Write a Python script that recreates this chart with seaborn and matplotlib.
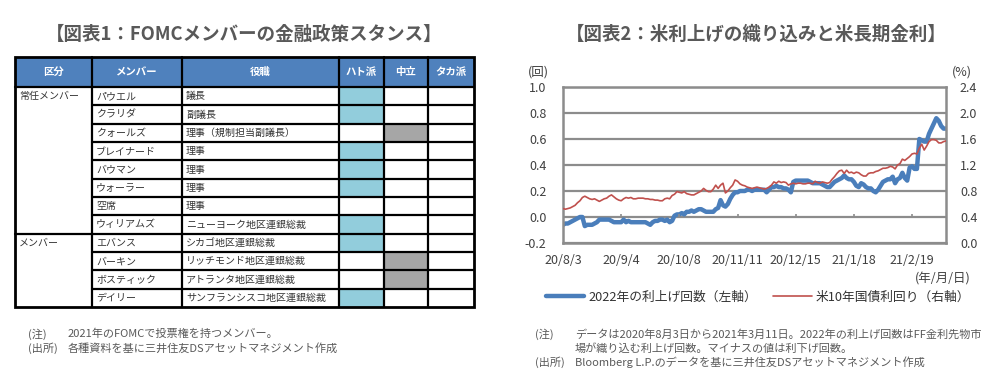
import matplotlib
matplotlib.use("Agg")
import matplotlib.pyplot as plt
from matplotlib.colors import ListedColormap
from matplotlib.lines import Line2D
import numpy as np
import pandas as pd
import seaborn as sns

# ---- 図表1 : FOMCメンバー ----
header = ["区分", "メンバー", "役職", "ハト派", "中立", "タカ派"]
groups = ["常任メンバー", "メンバー"]
group_sizes = [8, 4]
members = ["パウエル", "クラリダ", "クォールズ", "ブレイナード", "バウマン", "ウォーラー",
           "空席", "ウィリアムズ", "エバンス", "バーキン", "ボスティック", "デイリー"]
posts = ["議長", "副議長", "理事（規制担当副議長）", "理事", "理事", "理事", "理事",
         "ニューヨーク地区連銀総裁", "シカゴ地区連銀総裁", "リッチモンド地区連銀総裁",
         "アトランタ地区連銀総裁", "サンフランシスコ地区連銀総裁"]
stance_cols = ["ハト派", "中立", "タカ派"]
stances = ["ハト派", "ハト派", "中立", "ハト派", "ハト派", "ハト派", "",
           "ハト派", "ハト派", "中立", "中立", "ハト派"]

# ---- 図表2 : 利上げ織り込みと米10年債 ----
dates = pd.bdate_range("2020-08-03", "2021-03-11")
xtick_labels = ["20/8/3", "20/9/4", "20/10/8", "20/11/11", "20/12/15", "21/1/18", "21/2/19"]
hikes_2022 = [
    -0.06, -0.05, -0.05, -0.04, -0.03, -0.02, -0.01, 0.00, 0.00, -0.07,
    -0.06, -0.06, -0.06, -0.05, -0.04, -0.02, -0.02, -0.02, -0.02, -0.02,
    -0.03, -0.04, -0.04, -0.04, -0.04, -0.02, -0.04, -0.03, -0.04, -0.04,
    -0.04, -0.04, -0.04, -0.04, -0.04, -0.05, -0.06, -0.04, -0.03, -0.03,
    -0.02, -0.02, -0.03, -0.02, -0.04, -0.03, 0.01, 0.02, 0.02, 0.03,
    0.02, 0.04, 0.04, 0.05, 0.04, 0.05, 0.06, 0.06, 0.05, 0.04,
    0.04, 0.04, 0.04, 0.06, 0.07, 0.13, 0.09, 0.08, 0.10, 0.14,
    0.17, 0.19, 0.19, 0.20, 0.20, 0.20, 0.21, 0.21, 0.20, 0.21,
    0.21, 0.21, 0.21, 0.21, 0.19, 0.21, 0.23, 0.23, 0.24, 0.23,
    0.23, 0.22, 0.22, 0.21, 0.19, 0.27, 0.28, 0.28, 0.28, 0.28,
    0.28, 0.28, 0.27, 0.26, 0.26, 0.26, 0.26, 0.25, 0.24, 0.23,
    0.23, 0.25, 0.27, 0.28, 0.29, 0.30, 0.32, 0.30, 0.29, 0.29,
    0.27, 0.24, 0.23, 0.26, 0.25, 0.23, 0.22, 0.22, 0.20, 0.19,
    0.21, 0.24, 0.27, 0.28, 0.29, 0.29, 0.31, 0.26, 0.29, 0.30,
    0.34, 0.30, 0.28, 0.38, 0.39, 0.37, 0.37, 0.60, 0.59, 0.58,
    0.58, 0.64, 0.68, 0.72, 0.76, 0.74, 0.70, 0.68, 0.68,
]
ust10y = [
    0.53, 0.52, 0.53, 0.54, 0.56, 0.58, 0.62, 0.65, 0.70, 0.72,
    0.70, 0.68, 0.67, 0.68, 0.66, 0.64, 0.66, 0.68, 0.69, 0.72,
    0.74, 0.71, 0.68, 0.66, 0.65, 0.68, 0.70, 0.69, 0.70, 0.68,
    0.68, 0.69, 0.69, 0.69, 0.68, 0.68, 0.67, 0.67, 0.66, 0.66,
    0.65, 0.65, 0.68, 0.69, 0.68, 0.73, 0.75, 0.79, 0.78, 0.77,
    0.79, 0.76, 0.75, 0.74, 0.74, 0.76, 0.78, 0.80, 0.84, 0.81,
    0.79, 0.79, 0.83, 0.89, 0.84, 0.89, 0.92, 0.77, 0.80, 0.85,
    0.89, 0.97, 0.95, 0.91, 0.89, 0.88, 0.86, 0.85, 0.84, 0.85,
    0.86, 0.85, 0.84, 0.83, 0.84, 0.86, 0.89, 0.94, 0.92, 0.95,
    0.93, 0.94, 0.93, 0.89, 0.91, 0.92, 0.91, 0.92, 0.92, 0.91,
    0.91, 0.92, 0.92, 0.91, 0.95, 0.93, 0.92, 0.94, 0.93, 0.92,
    0.93, 0.98, 1.02, 1.07, 1.11, 1.12, 1.07, 1.12, 1.08, 1.09,
    1.07, 1.09, 1.08, 1.05, 1.03, 1.03, 1.07, 1.08, 1.08, 1.10,
    1.11, 1.13, 1.15, 1.15, 1.16, 1.18, 1.17, 1.14, 1.20, 1.22,
    1.29, 1.27, 1.30, 1.33, 1.37, 1.38, 1.37, 1.46, 1.52, 1.43,
    1.49, 1.56, 1.59, 1.59, 1.58, 1.54, 1.54, 1.56, 1.57,
]
legend_labels = ["2022年の利上げ回数（左軸）", "米10年国債利回り（右軸）"]

sns.set_style("white")
plt.rcParams["font.family"] = ["Noto Sans CJK JP", "DejaVu Sans"]

W, H = 999, 385
fig = plt.figure(figsize=(W / 100, H / 100), dpi=100)

def frac(x0, y0, x1, y1):
    return [x0 / W, 1 - y1 / H, (x1 - x0) / W, (y1 - y0) / H]

def ftext(x, y, s, **kw):
    fig.text(x / W, 1 - y / H, s, **kw)

TXT = "#595959"
HEAD = "#4F81BD"
BLUE = "#4A7EBB"
RED = "#C0504D"
GRID = "#8C8C8C"
CELL = "#333333"

# タイトル
ftext(244, 34, "【図表1：FOMCメンバーの金融政策スタンス】", ha="center", va="center",
      fontsize=13.3, fontweight="bold", color=TXT)
ftext(756, 34, "【図表2：米利上げの織り込みと米長期金利】", ha="center", va="center",
      fontsize=13.3, fontweight="bold", color=TXT)

# ---- 表 ----
cols = [15, 92, 182, 339, 384, 428, 474]
top, head_bot, bot = 57, 87, 307
rh = (bot - head_bot) / len(members)

# スタンス部分はヒートマップで塗る
mat = np.array([[1 if s == "ハト派" and c == "ハト派" else 2 if s == c else 0
                 for c in stance_cols] for s in stances])
ax_st = fig.add_axes(frac(cols[3], head_bot, cols[6], bot))
sns.heatmap(mat, ax=ax_st, cmap=ListedColormap(["white", "#92CDDC", "#A6A6A6"]),
            vmin=-0.5, vmax=2.5, cbar=False, linewidths=0,
            xticklabels=False, yticklabels=False)

ax_t = fig.add_axes(frac(0, 0, W, H))
ax_t.set_xlim(0, W)
ax_t.set_ylim(H, 0)
ax_t.axis("off")
ax_t.add_patch(plt.Rectangle((cols[0], top), cols[-1] - cols[0], head_bot - top,
                             facecolor=HEAD, edgecolor="none"))
for i, h in enumerate(header):
    ax_t.text((cols[i] + cols[i + 1]) / 2, (top + head_bot) / 2, h, ha="center", va="center",
              color="white", fontsize=7.5, fontweight="bold")
for k in range(len(members)):
    yc = head_bot + (k + 0.5) * rh
    ax_t.text(cols[1] + 4, yc, members[k], ha="left", va="center", fontsize=7.2, color=CELL)
    ax_t.text(cols[2] + 4, yc, posts[k], ha="left", va="center", fontsize=7.2, color=CELL)
start = 0
for g, n in zip(groups, group_sizes):
    ax_t.text(cols[0] + 4, head_bot + (start + 0.5) * rh, g, ha="left", va="center",
              fontsize=7.2, color=CELL)
    start += n
for k in range(1, len(members)):
    x0 = cols[0] if k == group_sizes[0] else cols[1]
    ax_t.plot([x0, cols[-1]], [head_bot + k * rh] * 2, color="black", lw=1.6)
ax_t.plot([cols[0], cols[-1]], [head_bot] * 2, color="black", lw=1.6)
for x in cols[1:-1]:
    ax_t.plot([x, x], [top, bot], color="black", lw=1.6)
ax_t.add_patch(plt.Rectangle((cols[0], top), cols[-1] - cols[0], bot - top,
                             facecolor="none", edgecolor="black", lw=2))

ftext(28, 334, "(注)", fontsize=8, color=TXT, va="center")
ftext(68, 334, "2021年のFOMCで投票権を持つメンバー。", fontsize=8, color=TXT, va="center")
ftext(28, 348, "(出所)", fontsize=8, color=TXT, va="center")
ftext(68, 348, "各種資料を基に三井住友DSアセットマネジメント作成", fontsize=8, color=TXT, va="center")

# ---- グラフ ----
df = pd.DataFrame({"pos": np.arange(len(dates)), "hikes": hikes_2022, "ust10y": ust10y})
ax = fig.add_axes(frac(563, 87, 946, 243))
sns.lineplot(data=df, x="pos", y="hikes", ax=ax, color=BLUE, linewidth=3.2)
ax.set_xlim(0, len(dates) - 1)
ax.set_ylim(-0.2, 1.0)
yt = np.round(np.arange(-0.2, 1.01, 0.2), 1)
ax.set_yticks(yt)
ax.set_yticklabels([f"{v:.1f}" for v in yt])
ax.grid(axis="y", color=GRID, lw=1.6)
ax.grid(axis="x", visible=False)
for sp in ax.spines.values():
    sp.set_visible(True)
    sp.set_color(GRID)
    sp.set_linewidth(1.8)
tick_pos = np.arange(0, len(dates), 24)
ax.set_xticks(tick_pos)
ax.set_xticklabels(xtick_labels)
ax.vlines(tick_pos[1:], 0, 0.02, color=GRID, lw=1.2)
ax.tick_params(axis="both", length=0, labelsize=9, labelcolor="#404040")
ax.tick_params(axis="y", pad=12)
ax.tick_params(axis="x", pad=8)
ax.set_xlabel("")
ax.set_ylabel("")

ax2 = ax.twinx()
sns.lineplot(data=df, x="pos", y="ust10y", ax=ax2, color=RED, linewidth=1.2)
ax2.set_ylim(0, 2.4)
yt2 = np.round(np.arange(0, 2.41, 0.4), 1)
ax2.set_yticks(yt2)
ax2.set_yticklabels([f"{v:.1f}" for v in yt2])
ax2.tick_params(axis="y", length=0, labelsize=9, labelcolor="#404040", pad=10)
ax2.set_ylabel("")
ax2.grid(False)
for sp in ax2.spines.values():
    sp.set_visible(False)

ftext(538, 72, "(回)", ha="center", va="center", fontsize=9, color="#404040")
ftext(962, 72, "(%)", ha="center", va="center", fontsize=9, color="#404040")
ftext(943, 279, "(年/月/日)", ha="center", va="center", fontsize=9, color="#404040")

handles = [Line2D([], [], color=BLUE, lw=3.2), Line2D([], [], color=RED, lw=1.2)]
fig.legend(handles, legend_labels, loc="center", bbox_to_anchor=(758 / W, 1 - 297 / H),
           ncol=2, frameon=False, fontsize=9.2, handlelength=3.0, handletextpad=0.3,
           columnspacing=1.3, labelcolor="#333333")

ftext(535, 334, "(注)", fontsize=8, color=TXT, va="center")
ftext(575, 334, "データは2020年8月3日から2021年3月11日。2022年の利上げ回数はFF金利先物市",
      fontsize=8, color=TXT, va="center")
ftext(575, 348, "場が織り込む利上げ回数。マイナスの値は利下げ回数。", fontsize=8, color=TXT, va="center")
ftext(535, 362, "(出所)", fontsize=8, color=TXT, va="center")
ftext(575, 362, "Bloomberg L.P.のデータを基に三井住友DSアセットマネジメント作成",
      fontsize=8, color=TXT, va="center")

fig.savefig("out.png", dpi=100)
